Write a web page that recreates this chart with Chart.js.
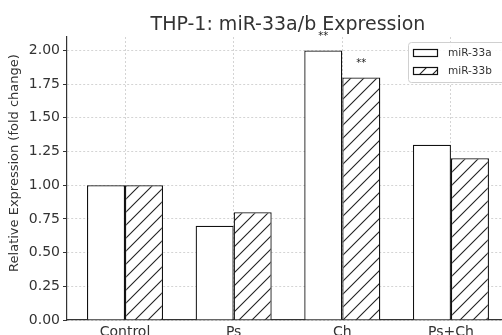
<!DOCTYPE html>
<html>
<head>
<meta charset="utf-8">
<script src="https://cdn.jsdelivr.net/npm/chart.js@4"></script>
<style>
  html, body { margin: 0; padding: 0; overflow: hidden; background: #fff; }
</style>
</head>
<body>
<canvas id="chart" width="502" height="350"></canvas>
<script>
// Data
const categories = ['Control', 'Ps', 'Ch', 'Ps+Ch'];
const mir33a = [1.00, 0.70, 2.00, 1.30];
const mir33b = [1.00, 0.80, 1.80, 1.20];
const sigA = ['', '', '**', ''];
const sigB = ['', '', '**', ''];
const yTicks = [0, 0.25, 0.5, 0.75, 1.0, 1.25, 1.5, 1.75, 2.0];

const FONT = '"DejaVu Sans", sans-serif';

// diagonal hatch pattern like matplotlib's '/'
function makeHatch() {
    const size = 13;
    const c = document.createElement('canvas');
    c.width = size;
    c.height = size;
    const g = c.getContext('2d');
    g.fillStyle = '#fff';
    g.fillRect(0, 0, size, size);
    g.strokeStyle = '#222';
    g.lineWidth = 1.1;
    g.beginPath();
    g.moveTo(-1, size + 1);
    g.lineTo(size + 1, -1);
    g.moveTo(-2, 2);
    g.lineTo(2, -2);
    g.moveTo(size - 2, size + 2);
    g.lineTo(size + 2, size - 2);
    g.stroke();
    return g.createPattern(c, 'repeat');
}
const hatch = makeHatch();

// title, axis label, legend and significance marks
const extras = {
    id: 'extras',
    afterDatasetsDraw(chart) {
        const ctx = chart.ctx;
        const x = chart.scales.x;

        // significance stars
        ctx.save();
        ctx.fillStyle = '#222';
        ctx.font = '10px ' + FONT;
        ctx.textAlign = 'center';
        ctx.textBaseline = 'middle';
        [sigA, sigB].forEach((marks, di) => {
            const meta = chart.getDatasetMeta(di);
            marks.forEach((m, i) => {
                if (!m) return;
                const bar = meta.data[i];
                ctx.fillText(m, bar.x, bar.y - 14);
            });
        });
        ctx.restore();

        // title
        ctx.save();
        ctx.fillStyle = '#333';
        ctx.font = '19px ' + FONT;
        ctx.textAlign = 'center';
        ctx.textBaseline = 'alphabetic';
        ctx.fillText('THP-1: miR-33a/b Expression', x.getPixelForValue(1.5), 30);
        ctx.restore();

        // y axis title
        ctx.save();
        ctx.fillStyle = '#333';
        ctx.font = '13px ' + FONT;
        ctx.textAlign = 'center';
        ctx.textBaseline = 'middle';
        ctx.translate(15, 163);
        ctx.rotate(-Math.PI / 2);
        ctx.fillText('Relative Expression (fold change)', 0, 0);
        ctx.restore();

        // legend box
        ctx.save();
        const lx = 408, ly = 42, lw = 110, lh = 40;
        ctx.fillStyle = 'rgba(255,255,255,0.85)';
        ctx.strokeStyle = '#d0d0d0';
        ctx.lineWidth = 1;
        ctx.beginPath();
        ctx.roundRect(lx + 0.5, ly + 0.5, lw, lh, 3);
        ctx.fill();
        ctx.stroke();
        const fills = ['#fff', hatch];
        chart.data.datasets.forEach((ds, i) => {
            const sy = 49 + i * 18;
            ctx.fillStyle = fills[i];
            ctx.fillRect(413, sy, 24, 7);
            ctx.strokeStyle = '#111';
            ctx.lineWidth = 1.2;
            ctx.strokeRect(413.5, sy + 0.5, 24, 7);
            ctx.fillStyle = '#333';
            ctx.font = '10.5px ' + FONT;
            ctx.textAlign = 'left';
            ctx.textBaseline = 'middle';
            ctx.fillText(ds.label, 448, sy + 4);
        });
        ctx.restore();
    }
};

new Chart(document.getElementById('chart'), {
    type: 'bar',
    data: {
        datasets: [
            {
                label: 'miR-33a',
                data: mir33a.map((v, i) => ({x: i, y: v})),
                backgroundColor: '#fff',
                borderColor: '#111',
                borderWidth: 1.3
            },
            {
                label: 'miR-33b',
                data: mir33b.map((v, i) => ({x: i, y: v})),
                backgroundColor: hatch,
                borderColor: '#111',
                borderWidth: 1.3
            }
        ]
    },
    options: {
        responsive: false,
        animation: false,
        categoryPercentage: 0.7,
        barPercentage: 1.0,
        layout: { padding: { top: 37, left: 0, right: 0, bottom: 0 } },
        plugins: {
            legend: { display: false },
            tooltip: { enabled: false }
        },
        scales: {
            x: {
                type: 'linear',
                offset: false,
                min: -0.534,
                max: 3.47,
                afterBuildTicks: s => { s.ticks = categories.map((c, i) => ({value: i})); },
                afterFit: s => { s.height = 30; },
                ticks: {
                    callback: v => categories[v],
                    color: '#333',
                    font: { family: FONT, size: 14 },
                    padding: 4,
                    maxRotation: 0,
                    autoSkip: false
                },
                grid: {
                    offset: false,
                    color: '#d4d4d4',
                    lineWidth: 1,
                    drawTicks: false
                },
                border: { color: '#333', width: 1.2, dash: [2, 2] }
            },
            y: {
                min: 0,
                max: 2.1,
                afterBuildTicks: s => { s.ticks = yTicks.map(v => ({value: v})); },
                afterFit: s => { s.width = 67; },
                ticks: {
                    callback: v => v.toFixed(2),
                    color: '#333',
                    font: { family: FONT, size: 14 },
                    padding: 3
                },
                grid: {
                    color: '#d4d4d4',
                    lineWidth: 1,
                    drawTicks: true,
                    tickLength: 4,
                    tickColor: '#333',
                    tickBorderDash: []
                },
                border: { color: '#333', width: 1.2, dash: [2, 2] }
            }
        }
    },
    plugins: [extras]
});
</script>
</body>
</html>
